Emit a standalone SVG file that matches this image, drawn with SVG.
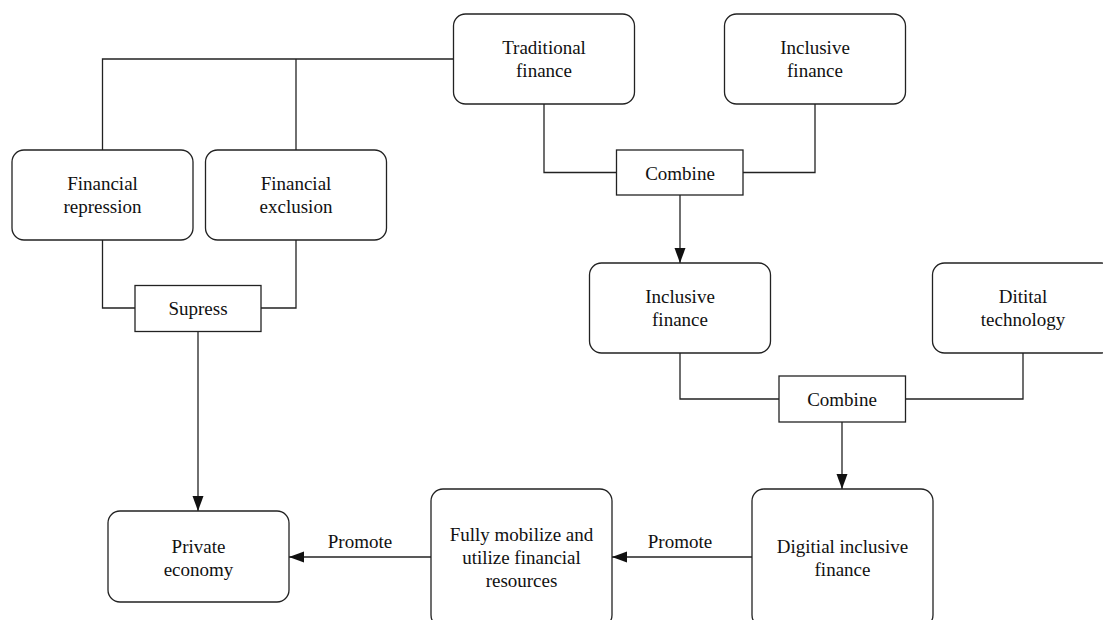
<svg xmlns="http://www.w3.org/2000/svg" width="1103" height="620" viewBox="0 0 1103 620">
<style>
.box{fill:#fff;stroke:#222;stroke-width:1.3}
.op{fill:#fff;stroke:#222;stroke-width:1.3}
.ln{fill:none;stroke:#222;stroke-width:1.3}
text{font-family:"Liberation Serif","Times New Roman",serif;font-size:19px;fill:#111;text-anchor:middle}
</style>
<defs>
<marker id="ah" markerUnits="userSpaceOnUse" markerWidth="16" markerHeight="12" refX="15" refY="5.5" orient="auto">
<path d="M0,0 L15,5.5 L0,11 z" fill="#111"/>
</marker>
</defs>
<rect width="1103" height="620" fill="#fff"/>
<g id="connectors">
<path class="ln" d="M453.5 59 H102.5 V150"/>
<path class="ln" d="M296 59 V150"/>
<path class="ln" d="M102.5 240 V308 H135"/>
<path class="ln" d="M296 240 V308 H261"/>
<path class="ln" d="M198 331.5 V511" marker-end="url(#ah)"/>
<path class="ln" d="M544 104 V172.5 H616.5"/>
<path class="ln" d="M815 104 V172.5 H743"/>
<path class="ln" d="M680 195 V263" marker-end="url(#ah)"/>
<path class="ln" d="M680 353 V399 H779"/>
<path class="ln" d="M1023 353 V399 H905.5"/>
<path class="ln" d="M842 422 V489" marker-end="url(#ah)"/>
<path class="ln" d="M752 557 H612" marker-end="url(#ah)"/>
<path class="ln" d="M431 557 H289" marker-end="url(#ah)"/>
<text x="680" y="548">Promote</text>
<text x="360" y="548">Promote</text>
</g>
<g id="financial-repression">
<rect class="box" x="12" y="150" width="181" height="90" rx="12"/>
<text x="102.5" y="190">Financial</text>
<text x="102.5" y="213">repression</text>
</g>
<g id="financial-exclusion">
<rect class="box" x="205.5" y="150" width="181" height="90" rx="12"/>
<text x="296" y="190">Financial</text>
<text x="296" y="213">exclusion</text>
</g>
<g id="traditional-finance">
<rect class="box" x="453.5" y="14" width="181" height="90" rx="12"/>
<text x="544" y="54">Traditional</text>
<text x="544" y="77">finance</text>
</g>
<g id="inclusive-finance-top">
<rect class="box" x="724.5" y="14" width="181" height="90" rx="12"/>
<text x="815" y="54">Inclusive</text>
<text x="815" y="77">finance</text>
</g>
<g id="supress">
<rect class="op" x="135" y="285.5" width="126" height="46"/>
<text x="198" y="315">Supress</text>
</g>
<g id="combine-1">
<rect class="op" x="616.5" y="150" width="126.5" height="45"/>
<text x="680" y="179.5">Combine</text>
</g>
<g id="inclusive-finance-mid">
<rect class="box" x="589.5" y="263" width="181" height="90" rx="12"/>
<text x="680" y="303">Inclusive</text>
<text x="680" y="326">finance</text>
</g>
<g id="digital-technology">
<rect class="box" x="932.5" y="263" width="181" height="90" rx="12"/>
<text x="1023" y="303">Ditital</text>
<text x="1023" y="326">technology</text>
</g>
<g id="combine-2">
<rect class="op" x="779" y="376" width="126.5" height="46"/>
<text x="842" y="406">Combine</text>
</g>
<g id="private-economy">
<rect class="box" x="108" y="511" width="181" height="91" rx="12"/>
<text x="198.5" y="553">Private</text>
<text x="198.5" y="576">economy</text>
</g>
<g id="fully-mobilize">
<rect class="box" x="431" y="489" width="181" height="138" rx="12"/>
<text x="521.5" y="541">Fully mobilize and</text>
<text x="521.5" y="564">utilize financial</text>
<text x="521.5" y="587">resources</text>
</g>
<g id="digital-inclusive-finance">
<rect class="box" x="752" y="489" width="181" height="138" rx="12"/>
<text x="842.5" y="553">Digitial inclusive</text>
<text x="842.5" y="576">finance</text>
</g>
</svg>
